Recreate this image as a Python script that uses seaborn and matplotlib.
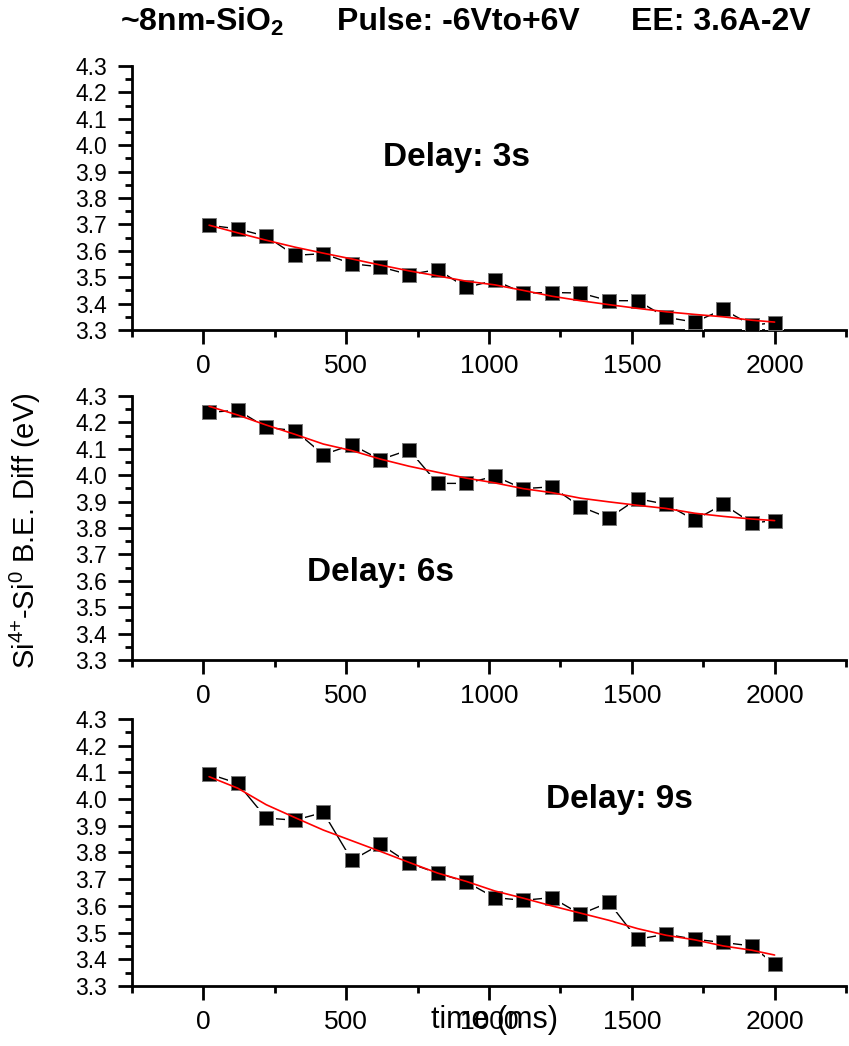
import matplotlib
matplotlib.use("Agg")
import matplotlib.pyplot as plt
import seaborn as sns
import pandas as pd
from matplotlib.ticker import MultipleLocator, FormatStrFormatter

# Pulse time points (ms)
time_ms = [20, 120, 220, 320, 420, 520, 620, 720, 820, 920, 1020,
           1120, 1220, 1320, 1420, 1520, 1620, 1720, 1820, 1920, 2000]

# Si4+ - Si0 binding-energy difference (eV) for each delay
delay3_diff = [3.697, 3.683, 3.655, 3.583, 3.589, 3.551, 3.539, 3.510, 3.529, 3.461, 3.488,
               3.440, 3.442, 3.440, 3.411, 3.411, 3.348, 3.330, 3.378, 3.318, 3.328]
delay6_diff = [4.238, 4.246, 4.181, 4.169, 4.078, 4.115, 4.059, 4.096, 3.969, 3.969, 3.996,
               3.949, 3.956, 3.881, 3.838, 3.911, 3.890, 3.830, 3.890, 3.819, 3.828]
delay9_diff = [4.094, 4.059, 3.929, 3.921, 3.950, 3.771, 3.831, 3.760, 3.723, 3.690, 3.631,
               3.621, 3.631, 3.569, 3.613, 3.475, 3.494, 3.475, 3.463, 3.450, 3.381]

# Fitted decay curves
delay3_fit = [3.697, 3.668, 3.640, 3.614, 3.591, 3.569, 3.546, 3.524, 3.505, 3.485, 3.471,
              3.450, 3.428, 3.411, 3.396, 3.382, 3.369, 3.359, 3.350, 3.337, 3.330]
delay6_fit = [4.261, 4.228, 4.190, 4.155, 4.118, 4.093, 4.061, 4.034, 4.011, 3.989, 3.971,
              3.949, 3.934, 3.913, 3.899, 3.886, 3.874, 3.856, 3.844, 3.834, 3.828]
delay9_fit = [4.084, 4.041, 3.979, 3.931, 3.884, 3.844, 3.804, 3.763, 3.723, 3.692, 3.656,
              3.629, 3.600, 3.573, 3.546, 3.515, 3.490, 3.473, 3.450, 3.434, 3.416]

panel_labels = ["Delay: 3s", "Delay: 6s", "Delay: 9s"]
header_texts = ["~8nm-SiO$_\\mathbf{2}$", "Pulse: -6Vto+6V", "EE: 3.6A-2V"]

sns.set_style("ticks")
plt.rcParams["font.family"] = ["Liberation Sans", "DejaVu Sans"]
plt.rcParams["mathtext.fontset"] = "custom"
plt.rcParams["mathtext.rm"] = "Liberation Sans"
plt.rcParams["mathtext.it"] = "Liberation Sans"
plt.rcParams["mathtext.bf"] = "Liberation Sans:bold"
for key in ("text.color", "axes.labelcolor", "xtick.color", "ytick.color", "axes.edgecolor"):
    plt.rcParams[key] = "black"

W, H = 849, 1046
fig = plt.figure(figsize=(W / 100, H / 100), dpi=100)

def px_rect(left, top, right, bottom):
    return [left / W, 1 - bottom / H, (right - left) / W, (bottom - top) / H]

rects = [px_rect(132, 66, 846, 330),
         px_rect(132, 396, 846, 660),
         px_rect(132, 719, 846, 986)]
series = [(delay3_diff, delay3_fit), (delay6_diff, delay6_fit), (delay9_diff, delay9_fit)]
label_pos = [(0.454, 0.655), (0.348, 0.33), (0.682, 0.70)]

axes = []
for rect, (diff, fit), lab, lpos in zip(rects, series, panel_labels, label_pos):
    ax = fig.add_axes(rect)
    df = pd.DataFrame({"time": time_ms, "diff": diff, "fit": fit})
    sns.lineplot(data=df, x="time", y="diff", color="black", lw=1.0, ax=ax, zorder=2)
    sns.scatterplot(data=df, x="time", y="diff", marker="s", s=200, color="white",
                    edgecolor="none", ax=ax, zorder=3)
    sns.scatterplot(data=df, x="time", y="diff", marker="s", s=90, color="black",
                    edgecolor="#777777", linewidth=0.7, ax=ax, zorder=4)
    sns.lineplot(data=df, x="time", y="fit", color="red", lw=1.2, ax=ax, zorder=5)

    ax.set_xlim(-250, 2250)
    ax.set_ylim(3.3, 4.3)
    ax.xaxis.set_major_locator(MultipleLocator(500))
    ax.xaxis.set_minor_locator(MultipleLocator(250))
    ax.yaxis.set_major_locator(MultipleLocator(0.1))
    ax.yaxis.set_minor_locator(MultipleLocator(0.05))
    ax.yaxis.set_major_formatter(FormatStrFormatter("%.1f"))
    ax.set_xticks([0, 500, 1000, 1500, 2000])

    for side in ("top", "right"):
        ax.spines[side].set_visible(False)
    for side in ("left", "bottom"):
        ax.spines[side].set_linewidth(2)
    ax.tick_params(which="major", length=10, width=2, direction="out")
    ax.tick_params(which="minor", length=5, width=2, direction="out")
    ax.tick_params(axis="x", which="major", labelsize=19, pad=7)
    ax.tick_params(axis="y", which="major", labelsize=16.5, pad=8)
    ax.set_xlabel("")
    ax.set_ylabel("")
    ax.text(lpos[0], lpos[1], lab, transform=ax.transAxes, ha="center", va="center",
            fontsize=24, fontweight="bold")
    axes.append(ax)

axes[1].set_ylabel("Si$^{4{+}}$-Si$^{0}$ B.E. Diff (eV)", fontsize=21)
axes[1].yaxis.set_label_coords(-0.124, 0.49)

axes[2].set_xlabel("time (ms)", fontsize=22)
axes[2].xaxis.set_label_coords(0.508, -0.127)
axes[2].xaxis.label.set_va("center")

for txt, x in zip(header_texts, [120, 337, 631]):
    fig.text(x / W, 1 - 22 / H, txt, ha="left", va="center", fontsize=23, fontweight="bold")

fig.savefig("out.png", dpi=100)
